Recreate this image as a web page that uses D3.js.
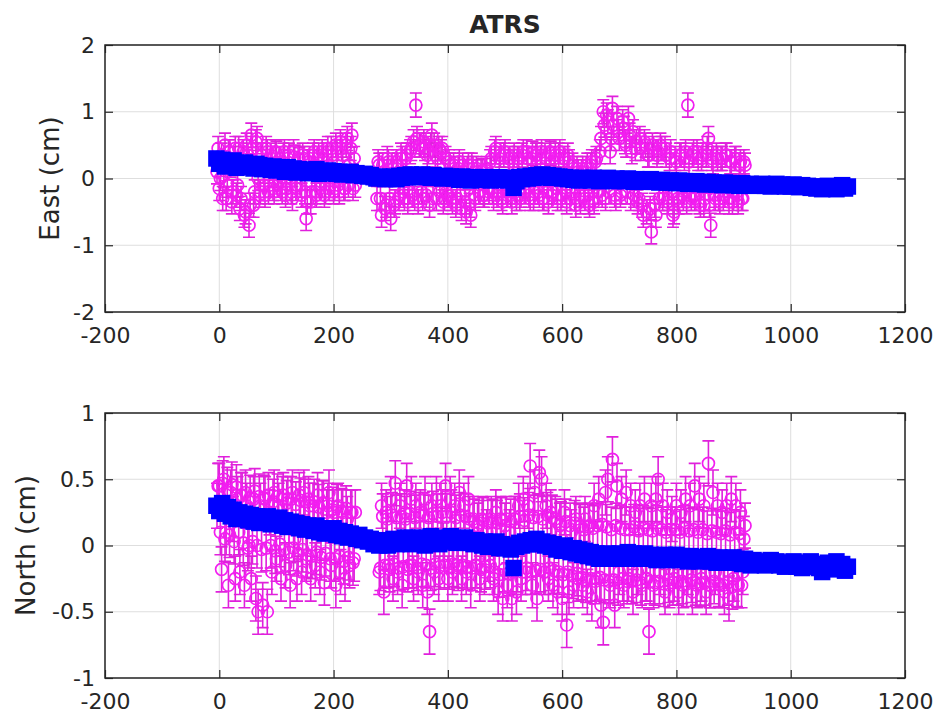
<!DOCTYPE html>
<html><head><meta charset="utf-8">
<script src="https://cdn.jsdelivr.net/npm/d3@7"></script>
<style>
body{margin:0;background:#fff}
text{font-family:"DejaVu Sans",sans-serif;fill:#262626}
</style>
</head><body>
<svg id="chart" width="939" height="718"></svg>
<script>
// ---------------- DATA ----------------
const titleText = "ATRS";
// observed solutions (magenta, with error bars)
// set A: every 4 days from day -4 ; set B: every 4 days from day -2
const obsAStartDay = -4, obsBStartDay = -2, obsStepDays = 4;
const eastObsA = [
 0.1,-0.15,0.35,0.05,-0.3,0.4,0.2,-0.2,0.45,-0.1,
 -0.45,0.3,-0.55,0.5,-0.7,0.65,-0.4,0.55,0.0,-0.2,
 0.35,-0.25,0.4,-0.1,0.3,-0.2,0.38,0.05,-0.15,0.35,
 -0.25,0.3,0.0,-0.3,0.32,-0.1,0.28,-0.25,0.3,-0.6,
 0.25,-0.35,0.35,-0.2,0.3,-0.15,0.4,-0.25,0.35,-0.15,
 0.45,-0.2,0.5,-0.1,0.55,0.35,-0.15,0.6,0.2,0.65,
 0.3,null,null,null,null,null,null,null,null,null,
 -0.3,0.2,-0.55,0.1,-0.4,0.25,-0.6,0.15,-0.35,0.2,
 -0.25,0.3,-0.3,0.35,-0.2,0.45,0.55,1.1,-0.35,0.5,
 -0.3,0.45,0.35,-0.4,0.65,0.5,-0.3,0.45,0.4,-0.35,
 0.3,-0.25,0.2,-0.35,0.15,-0.3,0.25,-0.45,0.1,-0.5,
 0.2,-0.55,0.15,-0.3,0.1,-0.2,0.12,-0.25,0.15,-0.2,
 0.3,-0.3,0.45,-0.2,0.35,-0.35,0.4,-0.25,0.3,-0.35,
 0.35,-0.3,0.3,-0.25,0.4,-0.2,0.3,-0.3,0.38,-0.2,
 0.35,-0.25,0.4,-0.3,0.3,-0.35,0.38,-0.2,0.35,-0.3,
 0.4,-0.25,0.3,-0.35,0.25,-0.2,0.15,-0.4,0.1,-0.35,
 0.15,-0.3,0.2,-0.4,0.25,-0.35,0.3,-0.2,0.6,1.0,
 -0.3,0.85,0.4,1.05,-0.25,0.9,0.6,-0.2,0.75,0.5,
 0.9,-0.3,0.7,0.45,-0.35,0.6,-0.4,0.55,-0.5,0.35,
 -0.8,0.45,-0.55,0.4,0.5,-0.3,0.45,-0.35,0.3,-0.2,
 -0.5,0.25,-0.35,0.35,-0.3,0.4,1.1,-0.25,0.35,-0.3,
 0.4,-0.35,0.3,-0.4,0.35,0.6,-0.7,0.25,-0.3,0.3,
 -0.35,0.3,-0.25,0.35,-0.35,0.25,-0.3,0.3,-0.35,0.25,
 -0.3,0.2
];
const eastObsB = [
 0.45,0.0,-0.3,0.5,-0.1,0.4,-0.35,0.3,-0.25,0.45,
 -0.3,0.4,-0.5,0.35,-0.4,0.45,-0.2,0.6,-0.25,0.35,
 -0.1,0.45,-0.2,0.35,-0.15,0.4,-0.1,0.3,-0.2,0.4,
 -0.15,0.35,-0.2,0.4,-0.15,0.3,-0.1,0.35,-0.2,-0.35,
 0.3,-0.2,0.4,-0.25,0.35,-0.1,0.3,-0.2,0.45,-0.1,
 0.35,-0.15,0.4,-0.2,0.45,-0.15,0.5,-0.1,0.45,-0.15,
 -0.1,null,null,null,null,null,null,null,null,null,
 0.25,-0.3,0.2,-0.45,0.3,-0.3,0.2,-0.4,0.25,-0.3,
 0.35,-0.2,0.3,-0.35,0.4,-0.25,-0.3,0.6,0.5,-0.2,
 0.55,-0.25,0.4,0.5,-0.3,0.35,0.3,-0.2,0.45,-0.3,
 -0.2,0.25,-0.3,0.2,-0.4,0.15,-0.25,0.2,-0.35,0.15,
 -0.4,0.2,-0.25,0.15,-0.2,0.1,-0.25,0.12,-0.15,0.25,
 -0.2,0.4,-0.25,0.3,-0.3,0.35,-0.2,0.3,-0.25,0.25,
 -0.2,0.3,-0.3,0.35,-0.15,0.4,-0.25,0.3,-0.3,0.35,
 -0.2,0.3,-0.3,0.35,-0.2,0.4,-0.25,0.3,-0.15,0.35,
 -0.3,0.3,-0.2,0.35,-0.3,0.2,-0.3,0.15,-0.25,0.1,
 -0.25,0.15,-0.35,0.2,-0.3,0.25,-0.2,0.4,-0.25,0.8,
 0.95,-0.2,0.6,0.8,-0.3,0.7,-0.25,0.85,0.55,-0.2,
 0.65,0.4,-0.25,0.55,-0.3,0.45,-0.55,0.5,0.35,-0.45,
 0.5,-0.4,0.35,-0.3,0.45,-0.25,0.35,-0.3,0.4,-0.55,
 0.3,-0.3,0.35,-0.25,0.3,-0.35,0.25,-0.3,0.4,-0.25,
 0.3,-0.4,0.35,-0.3,0.45,-0.4,0.3,-0.25,0.35,-0.3,
 0.3,-0.3,0.35,-0.2,0.25,-0.35,0.3,-0.25,0.2,-0.3,
 0.25
];
const northObsA = [
 0.3,0.45,-0.18,0.5,0.1,-0.3,0.4,0.2,-0.25,0.35,
 -0.2,0.38,-0.3,0.3,0.0,-0.25,0.35,-0.4,-0.5,0.3,
 -0.45,0.35,-0.5,0.25,-0.2,0.4,-0.1,0.3,-0.25,0.38,
 -0.15,0.35,-0.3,0.4,0.05,-0.25,0.38,-0.2,0.4,-0.1,
 0.35,-0.25,0.3,-0.15,0.38,-0.2,0.32,-0.28,0.25,0.4,
 -0.15,0.25,-0.3,0.3,-0.2,0.25,-0.25,0.2,-0.15,0.25,
 -0.1,null,null,null,null,null,null,null,null,null,
 null,-0.2,0.3,-0.35,0.25,-0.15,0.35,-0.25,0.47,-0.2,
 0.3,-0.3,0.25,0.45,-0.15,0.35,-0.25,0.3,-0.2,0.25,
 -0.3,0.35,-0.35,-0.65,0.3,-0.2,0.35,-0.25,0.3,0.0,
 0.45,-0.25,0.35,-0.2,0.3,-0.15,0.4,-0.25,0.3,-0.2,
 0.35,-0.3,0.2,-0.15,0.15,-0.25,0.2,-0.2,0.1,-0.1,
 0.2,-0.25,0.25,-0.35,0.2,-0.4,0.15,-0.3,0.1,-0.4,
 0.2,-0.35,0.3,-0.25,0.35,-0.2,0.3,0.6,-0.3,0.4,
 -0.4,0.55,0.5,-0.2,0.3,-0.25,0.25,-0.3,0.2,-0.35,
 0.15,-0.4,0.25,-0.6,-0.35,0.1,-0.3,0.2,-0.25,0.15,
 -0.3,0.2,-0.35,0.15,-0.4,0.3,-0.25,0.35,-0.45,-0.58,
 0.4,0.5,-0.3,0.65,-0.45,0.45,-0.2,0.35,-0.3,0.4,
 -0.25,0.3,-0.35,0.25,-0.2,0.3,-0.3,0.35,-0.25,-0.65,
 0.3,-0.3,0.35,0.5,-0.2,0.3,-0.35,0.25,-0.3,0.2,
 -0.25,0.3,-0.35,0.25,-0.3,0.35,-0.2,0.3,-0.35,0.45,
 -0.3,0.35,-0.25,0.3,-0.35,0.62,-0.3,0.4,-0.2,0.3,
 -0.3,0.25,-0.35,0.3,-0.4,0.35,-0.25,0.3,-0.3,0.25,
 -0.2,0.15
];
const northObsB = [
 0.45,0.1,0.47,0.05,0.42,0.08,0.46,0.03,0.44,0.1,
 0.38,0.02,0.4,-0.02,0.36,0.03,0.41,0.0,0.37,-0.03,
 0.36,-0.02,0.38,0.0,0.33,-0.04,0.37,0.01,0.35,-0.03,
 0.32,-0.05,0.35,-0.02,0.31,-0.06,0.34,-0.03,0.33,-0.07,
 0.3,-0.08,0.33,-0.05,0.29,-0.09,0.32,-0.06,0.3,-0.1,
 0.27,-0.1,0.29,-0.08,0.26,-0.12,0.28,-0.09,0.25,-0.13,
 0.25,null,null,null,null,null,null,null,null,null,
 null,-0.17,0.22,-0.15,0.2,-0.18,0.23,-0.14,0.21,-0.17,
 0.22,-0.16,0.2,-0.18,0.24,-0.15,0.21,-0.17,0.23,-0.14,
 0.23,-0.15,0.21,-0.17,0.24,-0.14,0.22,-0.16,0.25,-0.15,
 0.22,-0.16,0.25,-0.14,0.21,-0.17,0.23,-0.15,0.22,-0.16,
 0.2,-0.17,0.18,-0.15,0.17,-0.18,0.19,-0.16,0.17,-0.15,
 0.18,-0.2,0.17,-0.22,0.19,-0.18,0.2,-0.21,0.18,-0.2,
 0.2,-0.18,0.22,-0.2,0.19,-0.17,0.23,-0.2,0.21,-0.19,
 0.22,-0.18,0.2,-0.2,0.23,-0.17,0.21,-0.19,0.18,-0.2,
 0.16,-0.22,0.18,-0.2,0.15,-0.23,0.17,-0.21,0.14,-0.24,
 0.12,-0.26,0.14,-0.25,0.13,-0.27,0.15,-0.24,0.16,-0.26,
 0.14,-0.27,0.12,-0.26,0.15,-0.28,0.13,-0.25,0.12,-0.27,
 0.12,-0.27,0.14,-0.26,0.11,-0.28,0.13,-0.25,0.12,-0.27,
 0.11,-0.28,0.13,-0.27,0.12,-0.29,0.1,-0.26,0.12,-0.28,
 0.12,-0.28,0.1,-0.27,0.13,-0.29,0.11,-0.26,0.12,-0.28,
 0.1,-0.29,0.12,-0.28,0.09,-0.3,0.11,-0.27,0.1,-0.29,
 0.09,-0.3,0.11,-0.28,0.08,-0.31,0.1,-0.29,0.09,-0.3,
 0.05
];
const eastErr = 0.18;   // cm, error bar half-length
const northErr = 0.17;

// model values (blue squares), every 5 days from day -5
const modStartDay = -5, modStepDays = 5;
const eastMod = [
 0.3,0.22,0.28,0.18,0.25,0.2,0.27,0.16,0.22,0.19,
 0.24,0.17,0.21,0.15,0.22,0.2,0.14,0.19,0.17,0.13,
 0.18,0.12,0.16,0.14,0.1,0.17,0.12,0.15,0.09,0.14,
 0.11,0.13,0.08,0.12,0.1,0.14,0.07,0.11,0.09,0.12,
 0.08,0.11,0.07,0.1,0.06,0.09,0.07,0.1,0.05,0.08,
 0.06,0.04,0.07,0.03,0.05,0.02,0.0,0.03,0.01,-0.01,
 0.02,0.0,0.03,-0.01,0.04,0.01,0.05,0.02,0.06,0.03,
 0.05,0.02,0.06,0.03,0.04,0.01,0.05,0.02,0.03,0.0,
 0.04,0.01,0.03,0.0,0.02,-0.02,0.03,0.0,0.01,-0.03,
 0.02,-0.01,0.01,-0.02,0.02,0.0,-0.03,0.01,-0.01,0.02,
 -0.02,0.01,-0.03,0.0,-0.14,-0.04,0.02,-0.01,0.03,0.0,
 0.04,0.01,0.05,0.02,0.06,0.03,0.05,0.01,0.04,0.02,
 0.03,0.0,0.02,-0.01,0.01,-0.02,0.0,-0.03,0.01,-0.02,
 0.0,-0.03,0.01,-0.02,-0.04,0.0,-0.03,0.01,-0.02,-0.04,
 0.0,-0.03,-0.01,-0.04,0.0,-0.02,-0.05,-0.01,-0.03,-0.05,
 -0.02,-0.04,-0.01,-0.05,-0.03,-0.06,-0.02,-0.04,-0.06,-0.03,
 -0.05,-0.07,-0.03,-0.06,-0.04,-0.08,-0.05,-0.07,-0.04,-0.08,
 -0.06,-0.09,-0.05,-0.08,-0.06,-0.09,-0.07,-0.1,-0.06,-0.09,
 -0.07,-0.1,-0.08,-0.11,-0.07,-0.09,-0.1,-0.08,-0.11,-0.09,
 -0.1,-0.08,-0.11,-0.09,-0.12,-0.1,-0.08,-0.11,-0.09,-0.12,
 -0.1,-0.12,-0.09,-0.11,-0.13,-0.1,-0.12,-0.11,-0.14,-0.12,
 -0.15,-0.12,-0.16,-0.13,-0.11,-0.15,-0.12,-0.16,-0.13,-0.1,
 -0.15,-0.12
];
const northMod = [
 0.3,0.26,0.32,0.24,0.29,0.22,0.27,0.2,0.25,0.21,
 0.24,0.19,0.23,0.18,0.22,0.17,0.21,0.18,0.22,0.16,
 0.2,0.17,0.21,0.15,0.19,0.14,0.18,0.15,0.17,0.13,
 0.16,0.12,0.15,0.13,0.11,0.15,0.1,0.13,0.09,0.12,
 0.1,0.13,0.08,0.11,0.07,0.1,0.06,0.09,0.07,0.05,
 0.08,0.04,0.06,0.03,0.05,0.01,0.03,0.0,0.02,0.04,
 0.0,0.03,0.05,0.01,0.04,0.02,0.06,0.03,0.01,0.05,
 0.02,0.06,0.03,0.0,0.04,0.07,0.02,0.05,0.01,0.04,
 0.06,0.03,0.07,0.04,0.02,0.05,0.03,0.06,0.02,0.04,
 0.01,0.04,0.02,0.0,0.03,-0.01,0.02,0.0,0.03,-0.02,
 0.01,-0.02,0.0,-0.03,-0.17,-0.01,0.02,0.0,0.03,0.01,
 0.04,0.01,0.05,0.02,0.03,0.0,0.02,-0.01,0.01,-0.03,
 -0.01,-0.04,0.0,-0.03,-0.05,-0.02,-0.06,-0.03,-0.07,-0.04,
 -0.08,-0.05,-0.09,-0.06,-0.1,-0.07,-0.09,-0.06,-0.1,-0.07,
 -0.09,-0.06,-0.1,-0.07,-0.05,-0.09,-0.06,-0.1,-0.07,-0.09,
 -0.06,-0.1,-0.07,-0.09,-0.11,-0.08,-0.1,-0.07,-0.11,-0.08,
 -0.1,-0.07,-0.11,-0.08,-0.1,-0.12,-0.08,-0.11,-0.09,-0.12,
 -0.09,-0.11,-0.08,-0.12,-0.1,-0.13,-0.09,-0.11,-0.13,-0.1,
 -0.12,-0.09,-0.13,-0.11,-0.14,-0.1,-0.12,-0.15,-0.11,-0.13,
 -0.14,-0.12,-0.15,-0.13,-0.11,-0.14,-0.12,-0.15,-0.13,-0.16,
 -0.13,-0.15,-0.12,-0.16,-0.14,-0.17,-0.13,-0.15,-0.12,-0.16,
 -0.14,-0.17,-0.2,-0.15,-0.13,-0.18,-0.15,-0.12,-0.17,-0.14,
 -0.19,-0.16
];

const xTicks = [-200,0,200,400,600,800,1000,1200];
const xTickLabels = ["-200","0","200","400","600","800","1000","1200"];
const eastTicks = [-2,-1,0,1,2];
const eastTickLabels = ["-2","-1","0","1","2"];
const northTicks = [-1,-0.5,0,0.5,1];
const northTickLabels = ["-1","-0.5","0","0.5","1"];

// ---------------- DRAWING ----------------
const svg = d3.select("#chart");
const L = 105, R = 905;
const x = d3.scaleLinear().domain([-200,1200]).range([L,R]);

const panels = [
  {top:45, bottom:312, dom:[-2,2], ticks:eastTicks, labels:eastTickLabels,
   obsA:eastObsA, obsB:eastObsB, mod:eastMod, err:eastErr, ylabel:"East (cm)", labelX:50},
  {top:413, bottom:678, dom:[-1,1], ticks:northTicks, labels:northTickLabels,
   obsA:northObsA, obsB:northObsB, mod:northMod, err:northErr, ylabel:"North (cm)", labelX:26}
];

const axisColor = "#262626";
const obsColor = "#f21ef0";
const barColor = "#e020dc";
const modColor = "#0000ff";

panels.forEach(p => {
  const y = d3.scaleLinear().domain(p.dom).range([p.bottom, p.top]);
  const g = svg.append("g");

  // grid
  g.append("g").selectAll("line").data(xTicks).join("line")
    .attr("x1", d=>x(d)).attr("x2", d=>x(d))
    .attr("y1", p.top).attr("y2", p.bottom)
    .attr("stroke", "#dedede").attr("stroke-width", 1);
  g.append("g").selectAll("line").data(p.ticks).join("line")
    .attr("x1", L).attr("x2", R)
    .attr("y1", d=>y(d)).attr("y2", d=>y(d))
    .attr("stroke", "#dedede").attr("stroke-width", 1);

  // observations with error bars
  const obs = p.obsA.map((v,i)=>({day: obsAStartDay + i*obsStepDays, v}))
    .concat(p.obsB.map((v,i)=>({day: obsBStartDay + i*obsStepDays, v})))
    .filter(d=>d.v !== null)
    .sort((a,b)=>a.day-b.day);
  const og = g.append("g");
  const cap = 6;
  obs.forEach(d => {
    const cx = x(d.day), y0 = y(d.v - p.err), y1 = y(d.v + p.err);
    og.append("path")
      .attr("d", `M${cx},${y0}V${y1}M${cx-cap},${y0}H${cx+cap}M${cx-cap},${y1}H${cx+cap}`)
      .attr("fill","none").attr("stroke",barColor).attr("stroke-width",1.6);
  });
  og.selectAll("circle").data(obs).join("circle")
    .attr("cx", d=>x(d.day)).attr("cy", d=>y(d.v)).attr("r", 6)
    .attr("fill","none").attr("stroke",obsColor).attr("stroke-width",1.7);

  // model squares
  const mod = p.mod.map((v,i)=>({day: modStartDay + i*modStepDays, v}));
  const s = 15;
  g.append("g").selectAll("rect").data(mod).join("rect")
    .attr("x", d=>x(d.day)-s/2).attr("y", d=>y(d.v)-s/2)
    .attr("width", s).attr("height", s)
    .attr("fill",modColor).attr("stroke",modColor).attr("stroke-width",1.5);

  // axes (ticks inside)
  const bottomAx = d3.axisBottom(x).tickValues(xTicks)
    .tickFormat((d,i)=>xTickLabels[i]).tickSize(-8).tickSizeOuter(0).tickPadding(15);
  const topAx = d3.axisTop(x).tickValues(xTicks).tickFormat("").tickSize(-8).tickSizeOuter(0);
  const leftAx = d3.axisLeft(y).tickValues(p.ticks)
    .tickFormat((d,i)=>p.labels[i]).tickSize(-8).tickSizeOuter(0).tickPadding(10);
  const rightAx = d3.axisRight(y).tickValues(p.ticks).tickFormat("").tickSize(-8).tickSizeOuter(0);

  const styleAx = sel => {
    sel.select(".domain").remove();
    sel.selectAll("line").attr("stroke", axisColor).attr("stroke-width", 1.2);
    sel.selectAll("text").attr("font-family","DejaVu Sans, sans-serif")
      .attr("font-size", 22).attr("fill", axisColor);
  };
  g.append("g").attr("transform",`translate(0,${p.bottom})`).call(bottomAx).call(styleAx);
  g.append("g").attr("transform",`translate(0,${p.top})`).call(topAx).call(styleAx);
  g.append("g").attr("transform",`translate(${L},0)`).call(leftAx).call(styleAx);
  g.append("g").attr("transform",`translate(${R},0)`).call(rightAx).call(styleAx);

  // box
  g.append("rect").attr("x",L).attr("y",p.top).attr("width",R-L).attr("height",p.bottom-p.top)
    .attr("fill","none").attr("stroke",axisColor).attr("stroke-width",1.5);

  // y label
  g.append("text")
    .attr("transform",`translate(${p.labelX},${(p.top+p.bottom)/2}) rotate(-90)`)
    .attr("text-anchor","middle").attr("dy","0.35em")
    .attr("font-size",26).text(p.ylabel);
});

// title
svg.append("text").attr("x",(L+R)/2).attr("y",33).attr("text-anchor","middle")
  .attr("font-size",25).attr("font-weight","bold").attr("fill","#000").text(titleText);
</script>
</body></html>
